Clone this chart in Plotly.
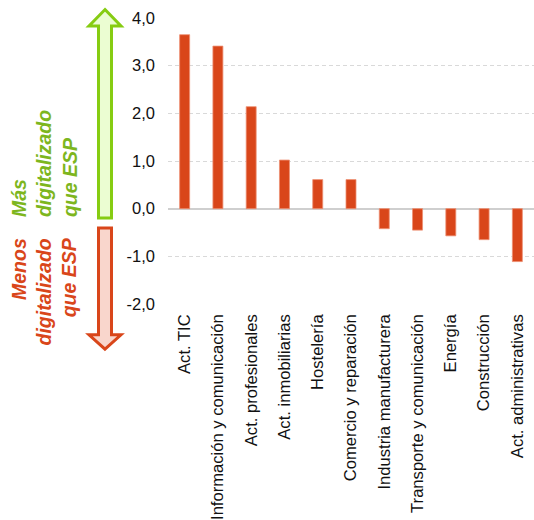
import plotly.graph_objects as go

categories = ["Act. TIC", "Información y comunicación", "Act. profesionales",
              "Act. inmobiliarias", "Hostelería", "Comercio y reparación",
              "Industria manufacturera", "Transporte y comunicación", "Energía",
              "Construcción", "Act. administrativas"]
values = [3.65, 3.41, 2.14, 1.02, 0.61, 0.61, -0.42, -0.45, -0.57, -0.65, -1.11]
tick_vals = [-2, -1, 0, 1, 2, 3, 4]
tick_text = ["-2,0", "-1,0", "0,0", "1,0", "2,0", "3,0", "4,0"]

W, H = 534, 520
L, T, B, R = 168, 18, 214, 0
PW, PH = W - L - R, H - T - B

def px(x):
    return (x - L) / PW

def py(y):
    return (H - B - y) / PH

fig = go.Figure(go.Bar(
    x=categories, y=values,
    marker=dict(color="#D9461A", line=dict(color="#EE8F72", width=0.8)),
    width=0.3,
))

def arrow_up(x0, x1, hx0, hx1, tip, base, bottom):
    cx = (x0 + x1) / 2
    pts = [(cx, tip), (hx1, base), (x1, base), (x1, bottom), (x0, bottom), (x0, base), (hx0, base)]
    return "M " + " L ".join(f"{px(a):.5f},{py(b):.5f}" for a, b in pts) + " Z"

def arrow_down(x0, x1, hx0, hx1, tip, base, top):
    cx = (x0 + x1) / 2
    pts = [(cx, tip), (hx1, base), (x1, base), (x1, top), (x0, top), (x0, base), (hx0, base)]
    return "M " + " L ".join(f"{px(a):.5f},{py(b):.5f}" for a, b in pts) + " Z"

shapes = [
    dict(type="path", xref="paper", yref="paper",
         path=arrow_up(98.5, 111.5, 89, 121, 9.5, 26, 219.5),
         fillcolor="#EBFDD2", line=dict(color="#86CC12", width=3)),
    dict(type="path", xref="paper", yref="paper",
         path=arrow_down(98.5, 111.5, 89, 121, 351.5, 337, 229.5),
         fillcolor="#F9D6CC", line=dict(color="#D9461A", width=3)),
]

annotations = [
    dict(xref="paper", yref="paper", x=px(44), y=py(221), xanchor="center", yanchor="bottom",
         text="<b><i>Más<br>digitalizado<br>que ESP</i></b>", textangle=-90, align="left", showarrow=False,
         font=dict(family="Liberation Sans, Arial", size=19.5, color="#7DB61E")),
    dict(xref="paper", yref="paper", x=px(44), y=py(237), xanchor="center", yanchor="top",
         text="<b><i>Menos<br>digitalizado<br>que ESP</i></b>", textangle=-90, align="right", showarrow=False,
         font=dict(family="Liberation Sans, Arial", size=19.5, color="#D9461A")),
]

fig.update_layout(
    width=W, height=H,
    margin=dict(l=L, r=R, t=T, b=B, pad=0),
    paper_bgcolor="white", plot_bgcolor="white",
    showlegend=False,
    font=dict(family="Liberation Sans, Arial", size=16, color="#111111"),
    shapes=shapes, annotations=annotations,
    xaxis=dict(tickangle=-90, showgrid=False, showline=False, ticks="",
               tickfont=dict(size=16.6), ticklabelstandoff=6),
    yaxis=dict(range=[-2, 4], tickvals=tick_vals, ticktext=tick_text,
               showgrid=True, gridcolor="#D9D9D9", griddash="4px,3px", gridwidth=1,
               zeroline=True, zerolinecolor="#CFCFCF", zerolinewidth=1.5,
               showline=False, ticks="", tickfont=dict(size=16.5), ticklabelstandoff=12),
)

fig.write_html("out.html")
